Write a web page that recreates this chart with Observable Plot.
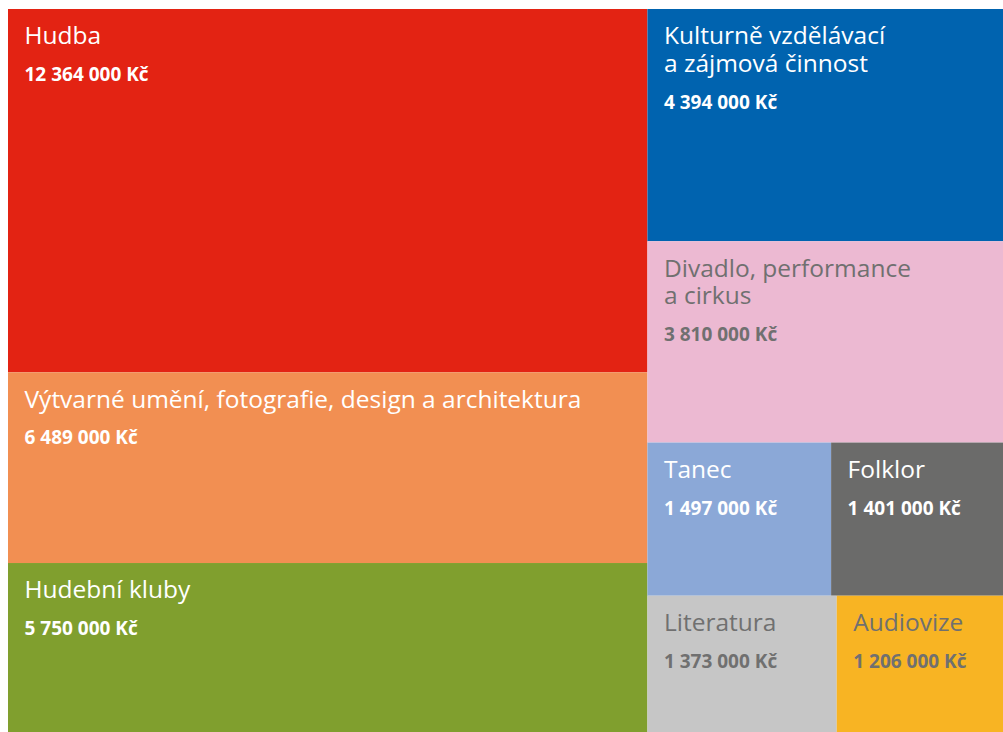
<!DOCTYPE html>
<html>
<head>
<meta charset="utf-8">
<script src="https://cdn.jsdelivr.net/npm/d3@7"></script>
<script src="https://cdn.jsdelivr.net/npm/@observablehq/plot@0.6"></script>
<style>
  html, body { margin: 0; padding: 0; background: #fff; }
  #chart svg { display: block; font-family: "Open Sans", sans-serif; }
</style>
</head>
<body>
<div id="chart"></div>
<script>
// Data
const names = [
  "Hudba",
  "Výtvarné umění, fotografie, design a architektura",
  "Hudební kluby",
  "Kulturně vzdělávací\na zájmová činnost",
  "Divadlo, performance\na cirkus",
  "Tanec",
  "Folklor",
  "Literatura",
  "Audiovize"
];
const values = [12364000, 6489000, 5750000, 4394000, 3810000, 1497000, 1401000, 1373000, 1206000];
// grouping path for each category (nested blocks of the treemap)
const groups = [
  "left", "left", "left",
  "right", "right",
  "right/small/row1", "right/small/row1",
  "right/small/row2", "right/small/row2"
];
const fills = ["#e32313", "#f28f52", "#809f2e", "#0063af", "#ecb9d2", "#8ba8d7", "#6b6b6a", "#c6c6c6", "#f8b423"];
const textColors = ["#fff", "#fff", "#fff", "#fff", "#707070", "#fff", "#fff", "#707070", "#707070"];

const W = 995, H = 723;

// Build nested hierarchy
const rootData = {name: "root", children: []};
function getNode(path) {
  let node = rootData;
  if (!path) return node;
  for (const p of path.split("/")) {
    let c = node.children.find(d => d.name === p && d.children);
    if (!c) { c = {name: p, children: []}; node.children.push(c); }
    node = c;
  }
  return node;
}
names.forEach((n, i) => {
  getNode(groups[i]).children.push({name: n, value: values[i], i});
});

const root = d3.hierarchy(rootData).sum(d => d.value || 0);
d3.treemap()
  .size([W, H])
  .round(false)
  .tile((node, x0, y0, x1, y1) => {
    if (node.depth === 0 || node.depth === 3) d3.treemapDice(node, x0, y0, x1, y1);
    else d3.treemapSlice(node, x0, y0, x1, y1);
  })(root);

const fmt = v => d3.format(",")(v).replace(/,/g, "\u00a0") + "\u00a0Kč";

const cells = root.leaves().map(l => ({
  name: l.data.name,
  value: l.data.value,
  label: fmt(l.data.value),
  lines: l.data.name.split("\n").length,
  fill: fills[l.data.i],
  color: textColors[l.data.i],
  x0: l.x0, x1: l.x1, y0: l.y0, y1: l.y1
}));

const chart = Plot.plot({
  width: 1003,
  height: 732,
  marginLeft: 8,
  marginTop: 9,
  marginRight: 0,
  marginBottom: 0,
  x: {domain: [0, W], axis: null},
  y: {domain: [0, H], axis: null, reverse: true},
  color: {type: "identity"},
  marks: [
    Plot.rect(cells, {x1: "x0", x2: "x1", y1: "y0", y2: "y1", fill: "fill"}),
    Plot.text(cells, {
      x: "x0", y: "y0", text: "name", fill: "color",
      textAnchor: "start", lineAnchor: "top", lineHeight: 1.14,
      dx: 16, dy: 15, fontSize: 24.5, fontWeight: 400, fontFamily: "Open Sans"
    }),
    Plot.text(cells.filter(d => d.lines === 1), {
      x: "x0", y: "y0", text: "label", fill: "color",
      textAnchor: "start", lineAnchor: "top",
      dx: 16, dy: 58, fontSize: 19, fontWeight: 700, fontFamily: "Open Sans"
    }),
    Plot.text(cells.filter(d => d.lines === 2), {
      x: "x0", y: "y0", text: "label", fill: "color",
      textAnchor: "start", lineAnchor: "top",
      dx: 16, dy: 58 + 28, fontSize: 19, fontWeight: 700, fontFamily: "Open Sans"
    })
  ]
});
document.getElementById("chart").appendChild(chart);
</script>
</body>
</html>
